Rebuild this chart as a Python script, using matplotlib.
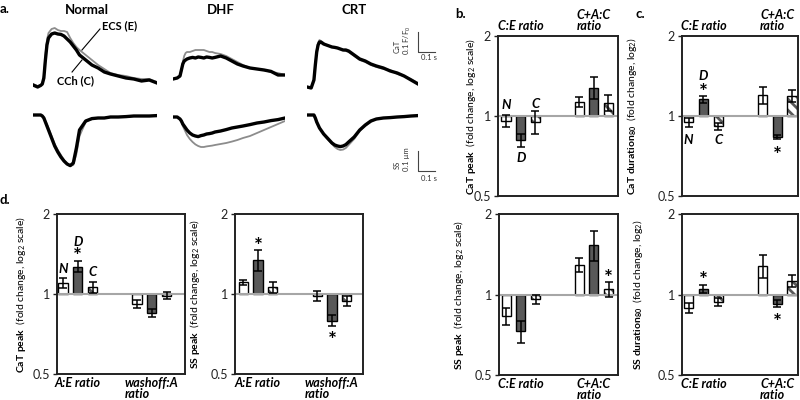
import matplotlib
matplotlib.use("Agg")
import matplotlib.pyplot as plt

plt.rcParams['font.family'] = ['Lato', 'DejaVu Sans']
plt.rcParams['mathtext.fontset'] = 'custom'
plt.rcParams['mathtext.rm'] = 'Lato'
plt.rcParams['mathtext.bf'] = 'Lato:bold'
plt.rcParams['mathtext.it'] = 'Lato:italic'
plt.rcParams['hatch.linewidth'] = 2.0

# ---- panel a: example traces (time in s, CaT in F/F0 offset, SS in um) ----
t = [0.00, 0.03, 0.05, 0.06, 0.07, 0.08, 0.09, 0.10, 0.12, 0.14, 0.16, 0.18, 0.20, 0.22, 0.24,
     0.26, 0.28, 0.30, 0.34, 0.38, 0.42, 0.46, 0.50, 0.55, 0.60, 0.65, 0.70, 0.75, 0.80]

cat_normal_E = [.020, .010, .015, .020, .060, .165, .240, .275, .295, .300, .290, .285, .285, .280, .250,
                .225, .205, .190, .165, .140, .115, .095, .075, .065, .060, .050, .045, .045, .030]
cat_normal_C = [.015, .005, .013, .020, .050, .140, .215, .250, .270, .275, .270, .268, .260, .245, .230,
                .210, .190, .165, .140, .115, .100, .080, .070, .060, .050, .045, .035, .040, .025]
cat_dhf_E = [.045, .050, .060, .085, .130, .160, .175, .180, .180, .185, .190, .190, .190, .190, .185,
             .180, .180, .175, .170, .160, .145, .130, .115, .100, .095, .090, .080, .075, .065]
cat_dhf_C = [.045, .050, .060, .090, .120, .135, .140, .145, .150, .153, .150, .155, .153, .150, .155,
             .153, .150, .153, .160, .150, .135, .120, .110, .100, .095, .090, .083, .065, .065]
cat_crt_E = [.005, .000, .045, .120, .190, .225, .240, .235, .225, .215, .210, .205, .205, .200, .195,
             .190, .185, .180, .160, .140, .130, .115, .105, .095, .090, .070, .060, .045, .025]
cat_crt_C = [.005, .000, .040, .115, .180, .215, .230, .230, .220, .215, .210, .205, .203, .200, .195,
             .190, .190, .185, .165, .145, .135, .120, .110, .100, .085, .075, .060, .040, .020]

ss_normal_E = [-.015, -.015, -.015, -.020, -.028, -.045, -.060, -.080, -.120, -.160, -.190, -.215, -.240, -.260, -.270,
               -.265, -.210, -.120, -.050, -.035, -.030, -.030, -.025, -.025, -.023, -.020, -.020, -.020, -.018]
ss_normal_C = [-.015, -.015, -.015, -.020, -.030, -.050, -.070, -.090, -.130, -.170, -.200, -.225, -.245, -.260, -.268,
               -.255, -.180, -.090, -.045, -.033, -.030, -.030, -.025, -.025, -.023, -.020, -.020, -.020, -.018]
ss_dhf_E = [-.025, -.025, -.035, -.050, -.070, -.085, -.100, -.115, -.135, -.150, -.162, -.170, -.175, -.175, -.172,
            -.170, -.168, -.165, -.160, -.155, -.148, -.140, -.130, -.120, -.105, -.090, -.075, -.060, -.045]
ss_dhf_C = [-.025, -.025, -.035, -.045, -.060, -.070, -.080, -.090, -.105, -.115, -.120, -.123, -.118, -.115, -.110,
            -.108, -.105, -.100, -.095, -.088, -.080, -.075, -.070, -.063, -.055, -.050, -.043, -.038, -.030]
ss_crt_E = [-.015, -.015, -.015, -.030, -.050, -.065, -.080, -.090, -.110, -.130, -.145, -.160, -.175, -.185, -.190,
            -.188, -.180, -.165, -.135, -.095, -.070, -.050, -.035, -.030, -.028, -.025, -.023, -.020, -.018]
ss_crt_C = [-.015, -.015, -.015, -.030, -.050, -.065, -.080, -.090, -.110, -.125, -.140, -.155, -.165, -.170, -.173,
            -.170, -.163, -.150, -.125, -.090, -.065, -.045, -.035, -.030, -.028, -.025, -.023, -.020, -.018]

conditions = ['Normal', 'DHF', 'CRT']
cat_E = [cat_normal_E, cat_dhf_E, cat_crt_E]
cat_C = [cat_normal_C, cat_dhf_C, cat_crt_C]
ss_E = [ss_normal_E, ss_dhf_E, ss_crt_E]
ss_C = [ss_normal_C, ss_dhf_C, ss_crt_C]

# ---- panels b-d: fold changes (order: N, D, C for group 1 then group 2) ----
groups_bc = ['C:E ratio', 'C+A:C\nratio']
groups_d = ['A:E ratio', 'washoff:A\nratio']

cat_peak_mean = [0.96, 0.81, 0.95, 1.13, 1.28, 1.12]
cat_peak_err = [0.05, 0.047, 0.095, 0.05, 0.12, 0.08]
cat_dur_mean = [0.947, 1.155, 0.915, 1.20, 0.836, 1.19]
cat_dur_err = [0.035, 0.033, 0.03, 0.086, 0.015, 0.065]
ss_peak_mean = [0.829, 0.728, 0.958, 1.289, 1.533, 1.047]
ss_peak_err = [0.062, 0.071, 0.035, 0.08, 0.20, 0.07]
ss_dur_mean = [0.891, 1.05, 0.939, 1.278, 0.925, 1.122]
ss_dur_err = [0.039, 0.034, 0.031, 0.125, 0.027, 0.057]
d_cat_mean = [1.097, 1.267, 1.06, 0.917, 0.848, 0.985]
d_cat_err = [0.048, 0.06, 0.05, 0.03, 0.03, 0.03]
d_ss_mean = [1.107, 1.343, 1.06, 0.985, 0.793, 0.944]
d_ss_err = [0.025, 0.12, 0.05, 0.043, 0.038, 0.04]

DARK = '#595959'
GREY = '#8c8c8c'

fig = plt.figure(figsize=(8, 4), dpi=100)


def rect(left, top, right, bottom):
    # pixel box -> figure fraction
    return [left / 800, 1 - bottom / 400, (right - left) / 800, (bottom - top) / 400]


def ftext(x, y, s, **kw):
    fig.text(x / 800, 1 - y / 400, s, **kw)


# traces
spans = [(33, 157), (173, 285), (307, 418)]
trace_axes = []
for i, (x0, x1) in enumerate(spans):
    ax1 = fig.add_axes(rect(x0, 20, x1, 95))
    ax2 = fig.add_axes(rect(x0, 105, x1, 175))
    ax1.plot(t, cat_E[i], color=GREY, lw=1.3, solid_joinstyle='round')
    ax1.plot(t, cat_C[i], color='black', lw=2.4, solid_joinstyle='round')
    ax2.plot(t, ss_E[i], color=GREY, lw=1.3, solid_joinstyle='round')
    ax2.plot(t, ss_C[i], color='black', lw=2.4, solid_joinstyle='round')
    ax1.set_ylim(-0.035, 0.34)
    ax2.set_ylim(-0.315, 0.035)
    for a in (ax1, ax2):
        a.set_xlim(0, 0.8)
        a.axis('off')
    trace_axes.append((ax1, ax2))
    ftext((x0 + x1) / 2 - 8, 10, conditions[i], fontsize=9.5, fontweight='bold', ha='center', va='center')

# trace legend labels
axn = trace_axes[0][0]
axn.plot([0.432, 0.316], [0.295, 0.19], color='black', lw=0.8)
axn.text(0.445, 0.31, 'ECS (E)', fontsize=8, fontweight='bold', ha='left', va='center')
axn.plot([0.252, 0.316], [0.08, 0.14], color='black', lw=0.8)
axn.text(0.274, 0.035, 'CCh (C)', fontsize=8, fontweight='bold', ha='center', va='center')

# scale bars
axc, axs = trace_axes[2]
axc.plot([0.8, 0.8, 0.92], [0.28, 0.18, 0.18], color='#444444', lw=0.8, clip_on=False)
axs.plot([0.8, 0.8, 0.92], [-0.195, -0.295, -0.295], color='#444444', lw=0.8, clip_on=False)
ftext(397, 46, 'CaT', fontsize=5.5, rotation=90, ha='center', va='center', color='#333333')
ftext(407, 40, '0.1 F/F$_0$', fontsize=5.5, rotation=90, ha='center', va='center', color='#333333')
ftext(429, 58, '0.1 s', fontsize=5.5, ha='center', va='center', color='#333333')
ftext(397, 165, 'SS', fontsize=5.5, rotation=90, ha='center', va='center', color='#333333')
ftext(407, 159, '0.1 \u00b5m', fontsize=5.5, rotation=90, ha='center', va='center', color='#333333')
ftext(429, 178, '0.1 s', fontsize=5.5, ha='center', va='center', color='#333333')


def bar_panel(box, means, errs, groups, ylabel, label_x, top_labels, xlim, notes):
    ax = fig.add_axes(rect(*box))
    xs = [g + o for g in (0, 1) for o in (-0.2, 0, 0.2)]
    w = 0.125
    for i, (x, m) in enumerate(zip(xs, means)):
        kind = i % 3
        if kind == 0:
            ax.bar(x, m - 1, bottom=1, width=w, facecolor='white', edgecolor='black', lw=1, zorder=2)
        elif kind == 1:
            ax.bar(x, m - 1, bottom=1, width=w, facecolor=DARK, edgecolor='black', lw=1, zorder=2)
        else:
            ax.bar(x, m - 1, bottom=1, width=w, facecolor='white', edgecolor=DARK, hatch='\\\\\\', lw=0, zorder=2)
            ax.bar(x, m - 1, bottom=1, width=w, fill=False, edgecolor='black', lw=1, zorder=2.1)
    ax.axhline(1, color='#a6a6a6', lw=1.5, zorder=2.5)
    ax.errorbar(xs, means, yerr=errs, fmt='none', ecolor='black', elinewidth=1.1,
                capsize=3, capthick=1.1, zorder=4)
    ax.set_yscale('log', base=2)
    ax.set_ylim(0.5, 2)
    ax.set_yticks([0.5, 1, 2])
    ax.set_yticklabels(['0.5', '1', '2'])
    ax.minorticks_off()
    ax.set_xlim(*xlim)
    ax.set_xticks([])
    ax.tick_params(axis='y', length=3, width=1, labelsize=9, pad=2, colors='#222222')
    for s in ax.spines.values():
        s.set_linewidth(1.4)
        s.set_color('#222222')
    ax.set_ylabel(ylabel, fontsize=7.5)
    ax.yaxis.set_label_coords(label_x, 0.5)
    for g, lab in zip((0, 1), groups):
        if top_labels:
            ax.annotate(lab, xy=(g, 1), xycoords=('data', 'axes fraction'), xytext=(0, 3),
                        textcoords='offset points', ha='center', va='bottom', multialignment='left',
                        fontsize=9, fontweight='bold', fontstyle='italic', linespacing=0.9)
        else:
            ax.annotate(lab, xy=(g, 0), xycoords=('data', 'axes fraction'), xytext=(0, -2),
                        textcoords='offset points', ha='center', va='top', multialignment='left',
                        fontsize=9, fontweight='bold', fontstyle='italic', linespacing=0.9)
    for idx, txt, yv in notes:
        if txt == '*':
            ax.text(xs[idx], yv, txt, fontsize=15, fontweight='bold', ha='center', va='center_baseline')
        else:
            ax.text(xs[idx], yv, txt, fontsize=9.5, fontweight='bold', fontstyle='italic',
                    ha='center', va='center')
    return ax


lab_cat_peak = r'$\mathbf{CaT\ peak}$  (fold change, log$_2$ scale)'
lab_ss_peak = r'$\mathbf{SS\ peak}$  (fold change, log$_2$ scale)'
lab_cat_dur = r'$\mathbf{CaT\ duration}_{\mathbf{80}}$  (fold change, log$_2$)'
lab_ss_dur = r'$\mathbf{SS\ duration}_{\mathbf{80}}$  (fold change, log$_2$)'

bar_panel((498, 36, 618, 196), cat_peak_mean, cat_peak_err, groups_bc, lab_cat_peak, -0.17, True,
          (-0.31, 1.33), [(0, 'N', 1.10), (1, 'D', 0.695), (2, 'C', 1.11)])
bar_panel((682, 36, 798, 196), cat_dur_mean, cat_dur_err, groups_bc, lab_cat_dur, -0.37, True,
          (-0.29, 1.28), [(1, 'D', 1.42), (1, '*', 1.24), (0, 'N', 0.81), (2, 'C', 0.81), (4, '*', 0.72)])
bar_panel((499, 214, 618, 375), ss_peak_mean, ss_peak_err, groups_bc, lab_ss_peak, -0.28, False,
          (-0.30, 1.33), [(5, '*', 1.16)])
bar_panel((682, 214, 798, 375), ss_dur_mean, ss_dur_err, groups_bc, lab_ss_dur, -0.32, False,
          (-0.29, 1.28), [(1, '*', 1.145), (4, '*', 0.795)])
bar_panel((57, 214, 185, 374), d_cat_mean, d_cat_err, groups_d, lab_cat_peak, -0.23, False,
          (-0.28, 1.45), [(0, 'N', 1.242), (1, 'D', 1.573), (1, '*', 1.40), (2, 'C', 1.21)])
bar_panel((235, 214, 363, 374), d_ss_mean, d_ss_err, groups_d, lab_ss_peak, -0.26, False,
          (-0.31, 1.42), [(1, '*', 1.53), (4, '*', 0.675)])

# panel letters
ftext(0, 9, 'a.', fontsize=9.5, fontweight='bold', ha='left', va='center')
ftext(455, 14, 'b.', fontsize=9.5, fontweight='bold', ha='left', va='center')
ftext(636, 14, 'c.', fontsize=9.5, fontweight='bold', ha='left', va='center')
ftext(0, 200, 'd.', fontsize=9.5, fontweight='bold', ha='left', va='center')

fig.savefig('out.png', dpi=100)
